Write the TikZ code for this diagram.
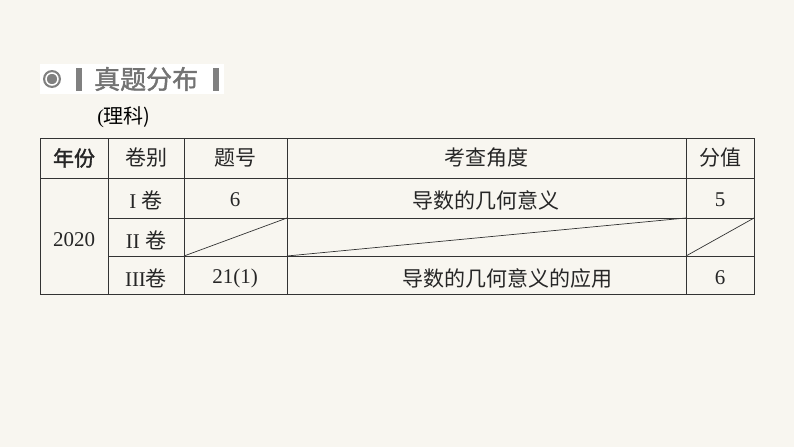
\documentclass[tikz,border=0pt]{standalone}
\usepackage{fontspec}
\setmainfont{Liberation Serif}
\newfontfamily\cjk{Noto Sans CJK SC}
\newfontfamily\cjkb{Noto Sans CJK SC}[FakeBold=1.5]
\begin{document}
\begin{tikzpicture}[x=1pt,y=-1pt,
  cell/.style={font=\fontsize{21}{21}\selectfont, text=black!85},
  ccell/.style={cell, font=\cjk\fontsize{21}{21}\selectfont},
  grid/.style={draw=black!80, line width=0.9pt}]
\fill[fill={rgb,255:red,248;green,246;blue,240}] (0,0) rectangle (794,447);
\useasboundingbox (0,0) rectangle (794,447);
\fill[white] (40,64) rectangle (224,94);
\fill[black!50] (52,79) circle (9);
\draw[white, line width=1.5pt] (52,79) circle (6);
\fill[black!50] (76,68) rectangle (82,91);
\fill[black!50] (213,68) rectangle (219,91);
\node[anchor=west, font=\cjkb\fontsize{26}{26}\selectfont, text=black!55, inner sep=0pt] (title) at (94,79) {真题分布};
\node[font=\fontsize{20}{20}\selectfont] (sub) at (124,117) {(\cjk 理科)};
% grid
\draw[grid] (40,138) rectangle (754,294);
\draw[grid] (40,178) -- (754,178);
\draw[grid] (108,218) -- (754,218);
\draw[grid] (108,256) -- (754,256);
\foreach \x in {108,184,287,686} \draw[grid] (\x,138) -- (\x,294);
\draw[grid, line width=0.7pt] (184,256) -- (287,218);
\draw[grid, line width=0.7pt] (287,256) -- (686,218);
\draw[grid, line width=0.7pt] (686,256) -- (754,218);
% header
\node[cell, font=\cjkb\fontsize{21}{21}\selectfont] (h1) at (74,158) {年份};
\node[ccell] (h2) at (146,158) {卷别};
\node[ccell] (h3) at (235,158) {题号};
\node[ccell] (h4) at (486,158) {考查角度};
\node[ccell] (h5) at (720,158) {分值};
\node[cell] (y) at (74,240) {2020};
\node[cell] (r1) at (146,200) {I {\cjk 卷}};
\node[cell] (r2) at (146,240) {II {\cjk 卷}};
\node[cell] (r3) at (146,278) {III{\cjk 卷}};
\node[cell] (n1) at (235,200) {6};
\node[cell] (n3) at (235,278) {21(1)};
\node[ccell] (a1) at (486,200) {导数的几何意义};
\node[ccell] (a3) at (507,278) {导数的几何意义的应用};
\node[cell] (s1) at (720,200) {5};
\node[cell] (s3) at (720,278) {6};
\end{tikzpicture}
\end{document}
